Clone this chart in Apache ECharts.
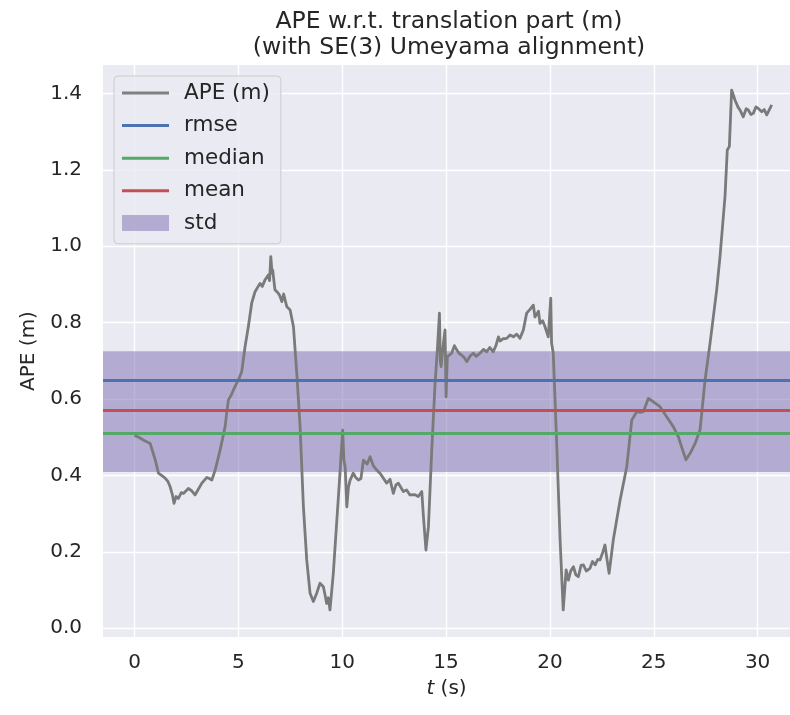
<!DOCTYPE html>
<html>
<head>
<meta charset="utf-8">
<script src="https://cdn.jsdelivr.net/npm/echarts@6/dist/echarts.min.js"></script>
<style>
  html, body { margin: 0; padding: 0; background: #ffffff; }
  #chart { width: 790px; height: 715px; }
</style>
</head>
<body>
<div id="chart"></div>
<script>
// Timestamps (s) of the APE samples
const timeS = [
  0.00, 0.20, 0.42, 0.75, 1.00, 1.15, 1.30, 1.47, 1.60, 1.71, 1.82, 1.90, 2.00, 2.11, 2.25, 2.35,
  2.59, 2.75, 2.91, 3.05, 3.24, 3.48, 3.60, 3.72, 3.88, 4.00, 4.12, 4.36, 4.45, 4.52, 4.65, 4.76,
  4.90, 5.00, 5.16, 5.32, 5.48, 5.64, 5.80, 6.04, 6.15, 6.28, 6.44, 6.50, 6.56, 6.62, 6.65, 6.76,
  6.85, 6.92, 7.00, 7.09, 7.18, 7.25, 7.33, 7.49, 7.65, 7.81, 7.97, 8.13, 8.29, 8.45, 8.61, 8.77,
  8.93, 9.09, 9.18, 9.25, 9.33, 9.41, 9.57, 9.73, 9.89, 10.02, 10.08, 10.14, 10.22, 10.30, 10.38, 10.53,
  10.65, 10.78, 10.90, 11.02, 11.10, 11.20, 11.34, 11.42, 11.50, 11.66, 11.82, 11.90, 12.14, 12.30, 12.46, 12.58,
  12.70, 12.94, 13.10, 13.26, 13.50, 13.66, 13.83, 13.91, 14.03, 14.15, 14.31, 14.47, 14.58, 14.68, 14.72, 14.76,
  14.87, 14.95, 15.00, 15.06, 15.15, 15.27, 15.40, 15.51, 15.62, 15.75, 15.88, 16.00, 16.15, 16.31, 16.45, 16.63,
  16.80, 16.96, 17.10, 17.27, 17.40, 17.52, 17.60, 17.75, 17.92, 18.08, 18.24, 18.40, 18.56, 18.72, 18.88, 19.04,
  19.20, 19.28, 19.36, 19.45, 19.52, 19.65, 19.76, 19.92, 20.04, 20.08, 20.16, 20.32, 20.49, 20.64, 20.78, 20.89,
  21.00, 21.13, 21.25, 21.37, 21.50, 21.61, 21.75, 21.93, 22.05, 22.18, 22.30, 22.41, 22.55, 22.65, 22.73, 22.85,
  23.05, 23.38, 23.70, 23.94, 24.18, 24.35, 24.50, 24.74, 24.98, 25.30, 25.62, 25.94, 26.18, 26.34, 26.55, 26.75,
  26.99, 27.23, 27.47, 27.71, 28.03, 28.19, 28.43, 28.54, 28.64, 28.75, 28.91, 29.05, 29.15, 29.31, 29.45, 29.55,
  29.68, 29.79, 29.92, 30.03, 30.20, 30.32, 30.44, 30.68
];

// Absolute pose error of the translation part (m)
const apeM = [
  0.505, 0.500, 0.493, 0.484, 0.440, 0.406, 0.400, 0.393, 0.385, 0.371, 0.350, 0.327, 0.345, 0.340, 0.355, 0.353,
  0.366, 0.360, 0.349, 0.362, 0.380, 0.395, 0.392, 0.388, 0.414, 0.440, 0.467, 0.528, 0.570, 0.598, 0.610, 0.624,
  0.640, 0.650, 0.672, 0.737, 0.790, 0.851, 0.881, 0.903, 0.895, 0.912, 0.925, 0.910, 0.973, 0.930, 0.938, 0.886,
  0.890, 0.877, 0.870, 0.855, 0.875, 0.859, 0.842, 0.833, 0.790, 0.668, 0.528, 0.318, 0.179, 0.092, 0.070, 0.092,
  0.118, 0.109, 0.085, 0.065, 0.080, 0.048, 0.144, 0.275, 0.406, 0.519, 0.440, 0.423, 0.318, 0.370, 0.388, 0.406,
  0.395, 0.388, 0.392, 0.440, 0.445, 0.430, 0.449, 0.454, 0.425, 0.414, 0.406, 0.404, 0.380, 0.390, 0.353, 0.375,
  0.380, 0.358, 0.362, 0.349, 0.350, 0.345, 0.358, 0.292, 0.205, 0.266, 0.467, 0.641, 0.729, 0.825, 0.700, 0.685,
  0.746, 0.781, 0.606, 0.711, 0.715, 0.720, 0.740, 0.729, 0.720, 0.715, 0.708, 0.698, 0.712, 0.720, 0.712, 0.720,
  0.730, 0.724, 0.735, 0.724, 0.740, 0.763, 0.752, 0.758, 0.759, 0.768, 0.763, 0.770, 0.759, 0.781, 0.825, 0.835,
  0.846, 0.815, 0.816, 0.830, 0.798, 0.805, 0.790, 0.763, 0.864, 0.746, 0.720, 0.493, 0.231, 0.048, 0.153, 0.126,
  0.150, 0.161, 0.140, 0.135, 0.165, 0.166, 0.150, 0.157, 0.175, 0.166, 0.180, 0.179, 0.200, 0.218, 0.187, 0.144,
  0.231, 0.336, 0.423, 0.545, 0.567, 0.565, 0.567, 0.602, 0.593, 0.580, 0.554, 0.528, 0.502, 0.475, 0.441, 0.458,
  0.484, 0.520, 0.650, 0.746, 0.886, 0.973, 1.130, 1.252, 1.261, 1.409, 1.383, 1.365, 1.357, 1.339, 1.360, 1.357,
  1.345, 1.348, 1.365, 1.361, 1.352, 1.358, 1.344, 1.370
];

// Summary statistics (m)
const statNames = ['rmse', 'median', 'mean'];
const statValues = [0.650, 0.511, 0.567];
const statColors = ['#4C72B0', '#55A868', '#C44E52'];
const stdValue = 0.158;

// Tick labels
const xTicks = [0, 5, 10, 15, 20, 25, 30];
const yTicks = [0.0, 0.2, 0.4, 0.6, 0.8, 1.0, 1.2, 1.4];

const FONT = 'DejaVu Sans';
const TEXT = '#262626';

const apeData = timeS.map((t, i) => [t, apeM[i]]);
const meanValue = statValues[statNames.indexOf('mean')];

const statSeries = statNames.map((name, i) => ({
  name: name,
  type: 'line',
  data: [],
  z: 4,
  itemStyle: { color: statColors[i] },
  lineStyle: { color: statColors[i], width: 3 },
  markLine: {
    silent: true,
    symbol: 'none',
    label: { show: false },
    lineStyle: { color: statColors[i], width: 3, type: 'solid', opacity: 1 },
    data: [{ yAxis: statValues[i] }]
  }
}));

const chart = echarts.init(document.getElementById('chart'), null, { renderer: 'canvas' });

chart.setOption({
  animation: false,
  backgroundColor: '#ffffff',
  textStyle: { fontFamily: FONT, color: TEXT },
  graphic: [
    {
      type: 'text',
      x: 449,
      y: 9,
      style: {
        text: 'APE w.r.t. translation part (m)\n(with SE(3) Umeyama alignment)',
        fontFamily: FONT,
        fontSize: 23.5,
        lineHeight: 26,
        fill: TEXT,
        align: 'center',
        verticalAlign: 'top'
      }
    }
  ],
  grid: {
    left: 103,
    right: 0,
    top: 65,
    bottom: 78,
    show: true,
    backgroundColor: '#EAEAF2',
    borderWidth: 0,
    containLabel: false
  },
  xAxis: {
    type: 'value',
    min: -1.52,
    max: 31.56,
    name: '{i|t} (s)',
    nameLocation: 'middle',
    nameGap: 42,
    nameTextStyle: {
      fontFamily: FONT, fontSize: 20, color: TEXT,
      rich: { i: { fontStyle: 'italic', fontFamily: FONT, fontSize: 20, color: TEXT } }
    },
    axisLine: { show: false },
    axisTick: { show: false, customValues: xTicks },
    axisLabel: {
      customValues: xTicks,
      fontFamily: FONT, fontSize: 20, color: TEXT, margin: 16,
      formatter: v => String(v)
    },
    splitLine: { show: true, lineStyle: { color: '#ffffff', width: 1.4 } }
  },
  yAxis: {
    type: 'value',
    min: -0.0228,
    max: 1.4746,
    name: 'APE (m)',
    nameLocation: 'middle',
    nameGap: 62,
    nameTextStyle: { fontFamily: FONT, fontSize: 20, color: TEXT },
    axisLine: { show: false },
    axisTick: { show: false, customValues: yTicks },
    axisLabel: {
      customValues: yTicks,
      fontFamily: FONT, fontSize: 20, color: TEXT, margin: 21,
      formatter: v => v.toFixed(1)
    },
    splitLine: { show: true, lineStyle: { color: '#ffffff', width: 1.4 } }
  },
  legend: [
    {
      orient: 'vertical',
      left: 114,
      top: 76,
      padding: [6, 11, 42, 8],
      itemWidth: 47,
      itemHeight: 3,
      itemGap: 10.6,
      backgroundColor: 'rgba(234,234,242,0.8)',
      borderColor: '#cccccc',
      borderWidth: 1,
      borderRadius: 4,
      selectedMode: false,
      textStyle: { fontFamily: FONT, fontSize: 21.5, color: TEXT, lineHeight: 22, padding: [0, 0, 0, 10] },
      data: [
        { name: 'APE (m)', icon: 'rect' },
        { name: 'rmse', icon: 'rect' },
        { name: 'median', icon: 'rect' },
        { name: 'mean', icon: 'rect' }
      ]
    },
    {
      orient: 'vertical',
      left: 114,
      top: 206,
      padding: [6, 0, 0, 8],
      itemWidth: 47,
      itemHeight: 16,
      selectedMode: false,
      textStyle: { fontFamily: FONT, fontSize: 21.5, color: TEXT, lineHeight: 22, padding: [0, 0, 0, 10] },
      data: [{ name: 'std', icon: 'rect' }]
    }
  ],
  series: [
    {
      name: 'std',
      type: 'line',
      data: [],
      z: 2,
      itemStyle: { color: 'rgba(129,114,179,0.52)' },
      markArea: {
        silent: true,
        itemStyle: { color: 'rgba(129,114,179,0.52)' },
        data: [[{ yAxis: meanValue - stdValue }, { yAxis: meanValue + stdValue }]]
      }
    },
    {
      name: 'APE (m)',
      type: 'line',
      data: apeData,
      z: 3,
      showSymbol: false,
      symbol: 'none',
      itemStyle: { color: '#808080' },
      lineStyle: { color: '#7a7a7a', width: 2.8, join: 'round' }
    },
    ...statSeries
  ]
});
</script>
</body>
</html>
